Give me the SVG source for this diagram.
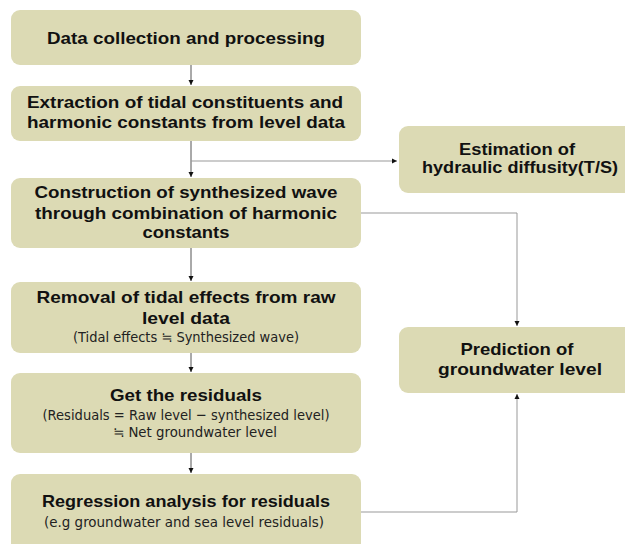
<svg xmlns="http://www.w3.org/2000/svg" width="625" height="544" viewBox="0 0 625 544">
<style>
.box{fill:#dcdab4}
.t{font-family:"Liberation Sans",Arial,sans-serif;font-weight:bold;font-size:16.5px;fill:#111;text-anchor:middle}
.s{font-family:"Liberation Sans Narrow","DejaVu Sans Condensed","Liberation Sans",sans-serif;font-size:14.5px;fill:#222;text-anchor:middle}
.c{fill:none;stroke:#555;stroke-width:1}
.g{fill:none;stroke:#999;stroke-width:1}
</style>
<defs>
<marker id="a" markerWidth="6" markerHeight="6" refX="5" refY="3" orient="auto" markerUnits="userSpaceOnUse">
<path d="M0,0.5 L5,3 L0,5.5 Z" fill="#111"/>
</marker>
</defs>
<rect width="625" height="544" fill="#fff"/>
<g id="connectors">
<path class="c" d="M191,65 V85" marker-end="url(#a)"/>
<path class="c" d="M191,141 V177" marker-end="url(#a)"/>
<path class="g" d="M191,161 H397" marker-end="url(#a)"/>
<path class="c" d="M191,248 V281" marker-end="url(#a)"/>
<path class="c" d="M191,353 V372" marker-end="url(#a)"/>
<path class="c" d="M191,453 V473" marker-end="url(#a)"/>
<path class="g" d="M361,213 H517 V326" marker-end="url(#a)"/>
<path class="g" d="M361,512 H517 V394" marker-end="url(#a)"/>
</g>
<g id="n1">
<rect class="box" x="11" y="10" width="350" height="55" rx="9"/>
<text class="t" x="186" y="44" textLength="278" lengthAdjust="spacingAndGlyphs">Data collection and processing</text>
</g>
<g id="n2">
<rect class="box" x="11" y="86" width="350" height="55" rx="9"/>
<text class="t" x="185" y="108" textLength="316" lengthAdjust="spacingAndGlyphs">Extraction of tidal constituents and</text>
<text class="t" x="186" y="128" textLength="318" lengthAdjust="spacingAndGlyphs">harmonic constants from level data</text>
</g>
<g id="n3">
<rect class="box" x="11" y="178" width="350" height="70" rx="9"/>
<text class="t" x="186" y="198" textLength="303" lengthAdjust="spacingAndGlyphs">Construction of synthesized wave</text>
<text class="t" x="186" y="219" textLength="302" lengthAdjust="spacingAndGlyphs">through combination of harmonic</text>
<text class="t" x="186" y="238" textLength="87" lengthAdjust="spacingAndGlyphs">constants</text>
</g>
<g id="n4">
<rect class="box" x="11" y="282" width="350" height="71" rx="9"/>
<text class="t" x="186" y="303" textLength="299" lengthAdjust="spacingAndGlyphs">Removal of tidal effects from raw</text>
<text class="t" x="186" y="324" textLength="88" lengthAdjust="spacingAndGlyphs">level data</text>
<text class="s" x="186" y="342" textLength="226" lengthAdjust="spacingAndGlyphs">(Tidal effects ≒ Synthesized wave)</text>
</g>
<g id="n5">
<rect class="box" x="11" y="373" width="350" height="80" rx="9"/>
<text class="t" x="186" y="401" textLength="152" lengthAdjust="spacingAndGlyphs">Get the residuals</text>
<text class="s" x="186" y="420" textLength="287" lengthAdjust="spacingAndGlyphs">(Residuals = Raw level − synthesized level)</text>
<text class="s" x="195" y="437" textLength="164" lengthAdjust="spacingAndGlyphs">≒ Net groundwater level</text>
</g>
<g id="n6">
<rect class="box" x="11" y="474" width="350" height="80" rx="9"/>
<text class="t" x="186" y="507" textLength="288" lengthAdjust="spacingAndGlyphs">Regression analysis for residuals</text>
<text class="s" x="184" y="527" textLength="280" lengthAdjust="spacingAndGlyphs">(e.g groundwater and sea level residuals)</text>
</g>
<g id="n7">
<rect class="box" x="399" y="126" width="245" height="67" rx="9"/>
<text class="t" x="517" y="155" textLength="116" lengthAdjust="spacingAndGlyphs">Estimation of</text>
<text class="t" x="520" y="173" textLength="196" lengthAdjust="spacingAndGlyphs">hydraulic diffusity(T/S)</text>
</g>
<g id="n8">
<rect class="box" x="399" y="327" width="245" height="66" rx="9"/>
<text class="t" x="517" y="355" textLength="113" lengthAdjust="spacingAndGlyphs">Prediction of</text>
<text class="t" x="520" y="375" textLength="164" lengthAdjust="spacingAndGlyphs">groundwater level</text>
</g>
</svg>
